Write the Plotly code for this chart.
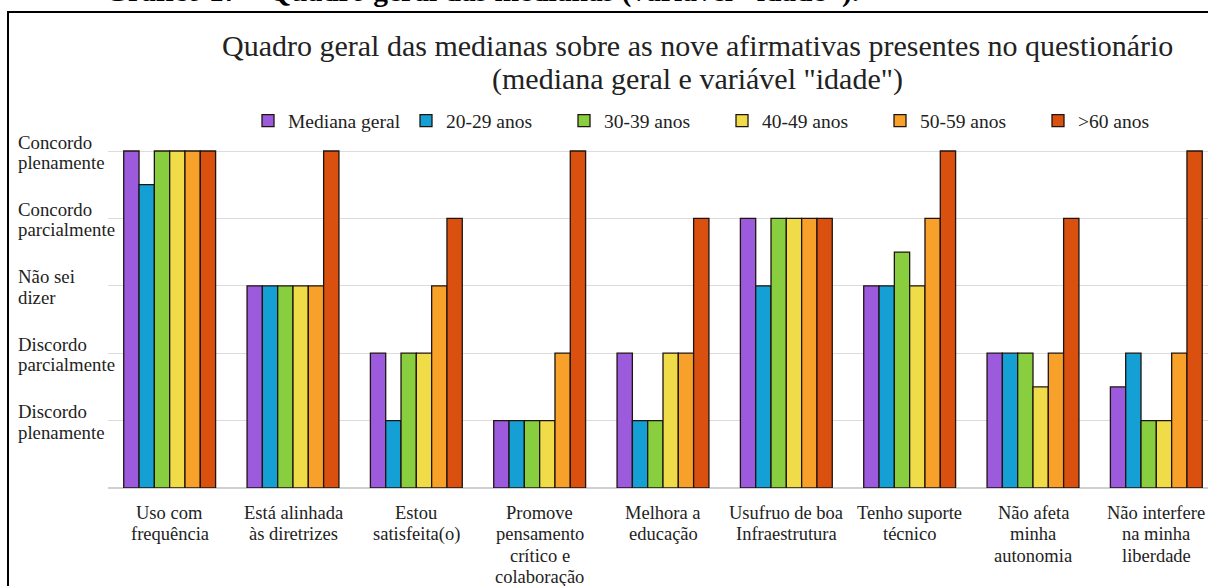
import plotly.graph_objects as go

categories = [
    "Uso com<br>frequência",
    "Está alinhada<br>às diretrizes",
    "Estou<br>satisfeita(o)",
    "Promove<br>pensamento<br>crítico e<br>colaboração",
    "Melhora a<br>educação",
    "Usufruo de boa<br>Infraestrutura",
    "Tenho suporte<br>técnico",
    "Não afeta<br>minha<br>autonomia",
    "Não interfere<br>na minha<br>liberdade",
]

series_names = ["Mediana geral", "20-29 anos", "30-39 anos", "40-49 anos", "50-59 anos", ">60 anos"]

mediana_geral = [5, 3, 2, 1, 2, 4, 3, 2, 1.5]
anos_20_29 = [4.5, 3, 1, 1, 1, 3, 3, 2, 2]
anos_30_39 = [5, 3, 2, 1, 1, 4, 3.5, 2, 1]
anos_40_49 = [5, 3, 2, 1, 2, 4, 3, 1.5, 1]
anos_50_59 = [5, 3, 3, 2, 2, 4, 4, 2, 2]
anos_60_mais = [5, 5, 4, 5, 4, 4, 5, 4, 5]

series_values = [mediana_geral, anos_20_29, anos_30_39, anos_40_49, anos_50_59, anos_60_mais]
colors = ["#9B5BDC", "#14A0D4", "#88CE3F", "#F0DC48", "#F7A02A", "#D9500F"]

y_tick_vals = [1, 2, 3, 4, 5]
y_tick_labels = [
    "Discordo<br>plenamente",
    "Discordo<br>parcialmente",
    "Não sei<br>dizer",
    "Concordo<br>parcialmente",
    "Concordo<br>plenamente",
]

heading = "Gráfico 17 – Quadro geral das medianas (variável \"idade\")."
title_line1 = "Quadro geral das medianas sobre as nove afirmativas presentes no questionário"
title_line2 = "(mediana geral e variável \"idade\")"

FONT = "Liberation Serif, Times New Roman, serif"
TXT = "#222222"

W, H = 1208, 586
L, R, T, B = 108, 0, 149, 98
plot_w = W - L - R
plot_h = H - T - B


def px_x(p):
    return (p - L) / plot_w


def px_y(p):
    return (H - B - p) / plot_h


fig = go.Figure()
for name, vals, col in zip(series_names, series_values, colors):
    fig.add_trace(go.Bar(
        name=name, x=categories, y=vals,
        marker=dict(color=col, line=dict(color="#1f1410", width=1.3)),
    ))

annotations = []
# y-axis category labels (left aligned, two lines each, tight line spacing)
for v, lab in zip(y_tick_vals, y_tick_labels):
    for k, line in enumerate(lab.split("<br>")):
        annotations.append(dict(
            x=px_x(16), xref="paper", xanchor="left", align="left",
            y=v, yref="y", yanchor="middle", yshift=9 - 20.5 * k,
            text=line, showarrow=False,
            font=dict(family=FONT, size=18.8, color=TXT),
        ))

# x-axis category labels (centered, tight line spacing)
for cat in categories:
    for k, line in enumerate(cat.split("<br>")):
        annotations.append(dict(
            x=cat, xref="x", xanchor="center",
            y=0, yref="paper", yanchor="middle", yshift=-(25 + 21.3 * k),
            text=line, showarrow=False,
            font=dict(family=FONT, size=18.5, color=TXT),
        ))

for txt, yc in [(title_line1, 45.5), (title_line2, 78.5)]:
    annotations.append(dict(
        x=px_x(697), xref="paper", xanchor="center",
        y=px_y(yc), yref="paper", yanchor="middle",
        text=txt, showarrow=False,
        font=dict(family=FONT, size=30, color=TXT),
    ))

annotations.append(dict(
    x=px_x(103), xref="paper", xanchor="left",
    y=px_y(-9), yref="paper", yanchor="middle",
    text="<b>" + heading + "</b>", showarrow=False,
    font=dict(family=FONT, size=29.5, color="#000000"),
))

shapes = [dict(
    type="rect", xref="paper", yref="paper",
    x0=px_x(8), x1=px_x(1300), y0=px_y(700), y1=px_y(12),
    line=dict(color="#000000", width=2), fillcolor="rgba(0,0,0,0)", layer="below",
)]

fig.update_layout(
    width=W, height=H,
    margin=dict(l=L, r=R, t=T, b=B, pad=0, autoexpand=False),
    paper_bgcolor="white", plot_bgcolor="white",
    barmode="group", bargap=0.255, bargroupgap=0,
    font=dict(family=FONT, size=18, color=TXT),
    showlegend=True,
    legend=dict(
        orientation="h", x=px_x(248), xanchor="left",
        y=px_y(121), yanchor="middle",
        font=dict(family=FONT, size=19.5, color=TXT),
        itemwidth=30, traceorder="normal", bgcolor="rgba(0,0,0,0)",
        entrywidth=113, entrywidthmode="pixels",
    ),
    xaxis=dict(
        range=[-0.5, 8.5 - 10 / 123.4], automargin=False,
        showgrid=False, showline=False, ticks="", showticklabels=False,
    ),
    yaxis=dict(
        range=[0, 5.03], tickvals=[0] + y_tick_vals, showticklabels=False,
        automargin=False,
        showgrid=True, gridcolor="#dcdcdc", gridwidth=1,
        zeroline=True, zerolinecolor="#d0d0d0", zerolinewidth=1.5,
        showline=False, ticks="",
    ),
    annotations=annotations,
    shapes=shapes,
)

fig.write_html(
    "out.html",
    config={"displayModeBar": False},
    post_script="document.body.style.margin='0';document.body.style.overflow='hidden';",
)
